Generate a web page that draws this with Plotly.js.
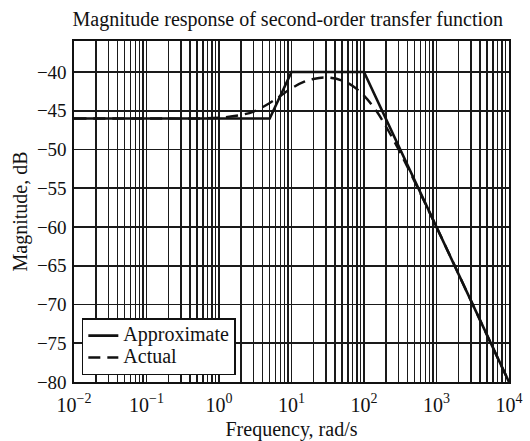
<!DOCTYPE html>
<html>
<head>
<meta charset="utf-8">
<script src="https://cdn.plot.ly/plotly-3.0.1.min.js"></script>
<style>html,body{margin:0;padding:0;background:#fff;}#chart{width:530px;height:441px;}</style>
</head>
<body>
<div id="chart"></div>
<script>
// Approximate (asymptotic) magnitude response
const approxFreq = [0.01, 5, 10, 100, 10000];
const approxDb   = [-46, -46, -40, -40, -80];

// Actual magnitude response
const actualFreq = [0.01, 0.1, 0.5, 1, 2, 3, 5, 7, 10, 15, 20, 30, 50, 70, 100, 150, 200, 300, 500, 1000, 2000, 5000, 10000];
const actualDb   = [-46.0, -46.0, -46.0, -45.9, -45.55, -45.1, -44.0, -43.1, -42.1, -41.25, -40.9, -40.7, -41.1, -41.8, -43.05, -45.1, -47.0, -50.0, -54.15, -60.0, -66.0, -74.0, -80.0];

const seriesNames = ["Approximate", "Actual"];
const xTicks = [0.01, 0.1, 1, 10, 100, 1000, 10000];
const xTickText = ["10<sup>\u22122</sup>", "10<sup>\u22121</sup>", "10<sup>0</sup>", "10<sup>1</sup>", "10<sup>2</sup>", "10<sup>3</sup>", "10<sup>4</sup>"];
const yTicks = [-80, -75, -70, -65, -60, -55, -50, -45, -40];
const yTickText = ["\u221280", "\u221275", "\u221270", "\u221265", "\u221260", "\u221255", "\u221250", "\u221245", "\u221240"];

const serif = "'Liberation Serif', 'DejaVu Serif', serif";
const legendLabel = (s) => "<span style='font-size:20px'>" + s + "</span>";

const traces = [
  {x: approxFreq, y: approxDb, name: legendLabel(seriesNames[0]), mode: "lines", type: "scatter",
   line: {color: "#111", width: 2.6, dash: "solid"}},
  {x: actualFreq, y: actualDb, name: legendLabel(seriesNames[1]), mode: "lines", type: "scatter",
   line: {color: "#111", width: 2.4, dash: "12px,7px", shape: "spline"}}
];

const layout = {
  width: 530, height: 441,
  margin: {l: 74, r: 21, t: 41, b: 59},
  paper_bgcolor: "#fff", plot_bgcolor: "#fff",
  font: {family: serif, size: 19, color: "#111"},
  title: {text: "Magnitude response of second-order transfer function",
          font: {family: serif, size: 20, color: "#111"},
          x: 0.543, xanchor: "center", y: 0.957, yanchor: "middle"},
  xaxis: {type: "log", range: [-2, 4], tickvals: xTicks, ticktext: xTickText,
          showgrid: true, gridcolor: "#1a1a1a", gridwidth: 1.6,
          minor: {dtick: "D1", showgrid: true, gridcolor: "#1a1a1a", gridwidth: 1.4, ticks: ""},
          showline: true, mirror: true, linecolor: "#111", linewidth: 1.6,
          ticks: "", zeroline: false, ticklabelstandoff: 4,
          tickfont: {family: serif, size: 20, color: "#111"},
          title: {text: "Frequency, rad/s", font: {family: serif, size: 20, color: "#111"}, standoff: 9}},
  yaxis: {range: [-80, -36], tickvals: yTicks, ticktext: yTickText,
          showgrid: true, gridcolor: "#1a1a1a", gridwidth: 1.6,
          showline: true, mirror: true, linecolor: "#111", linewidth: 1.6,
          ticks: "", zeroline: false, ticklabelstandoff: 2,
          tickfont: {family: serif, size: 19, color: "#111"},
          title: {text: "Magnitude, dB", font: {family: serif, size: 20, color: "#111"}, standoff: 4}},
  showlegend: true,
  legend: {x: 0.018, y: 0.02, xanchor: "left", yanchor: "bottom",
           bgcolor: "#fff", bordercolor: "#111", borderwidth: 1.5,
           font: {family: serif, size: 14.5, color: "#111"},
           tracegroupgap: 0, itemwidth: 30}
};

Plotly.newPlot("chart", traces, layout, {staticPlot: true, displayModeBar: false});
</script>
</body>
</html>
